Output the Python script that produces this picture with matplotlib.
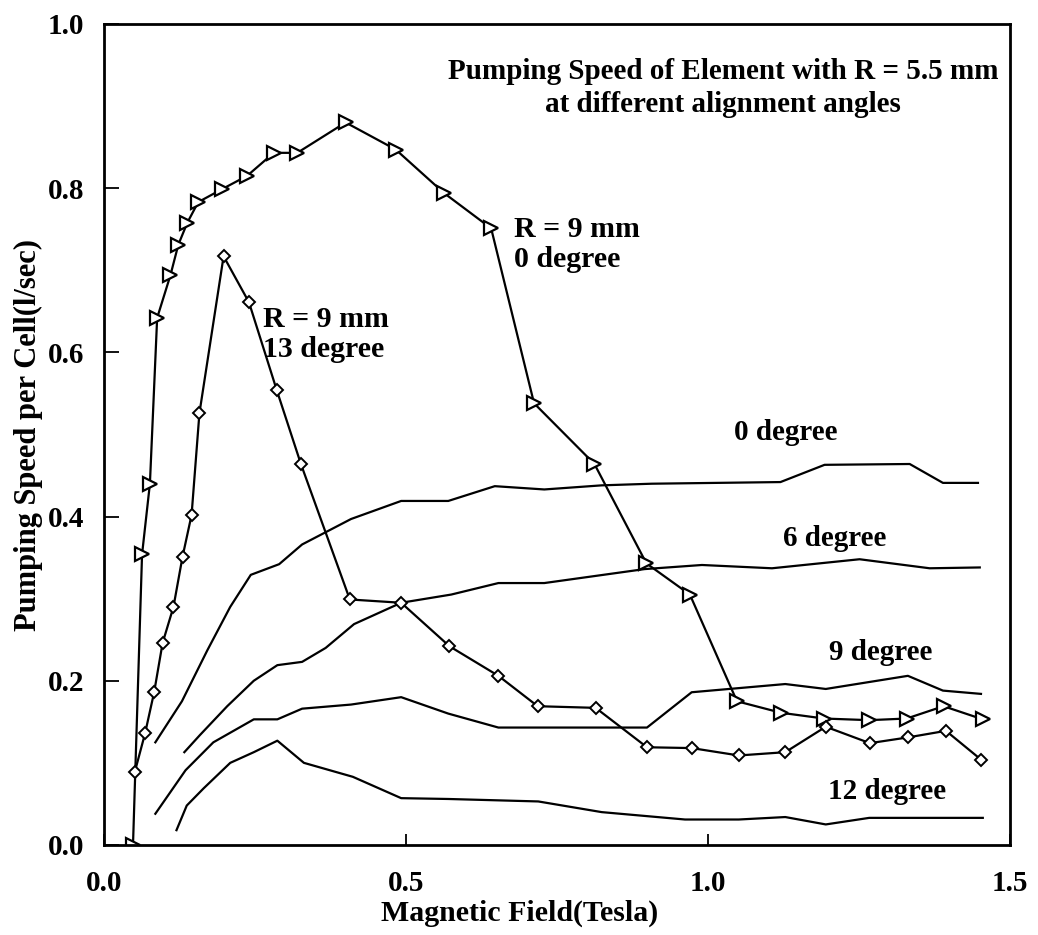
import matplotlib
matplotlib.use("Agg")
import matplotlib.pyplot as plt

plt.rcParams['font.family'] = ['Liberation Serif', 'DejaVu Serif']
plt.rcParams['font.weight'] = 'bold'

# R = 9 mm, 0 degree (open triangles)
tri_x = [0.048, 0.063, 0.076, 0.088, 0.110, 0.123, 0.138, 0.156, 0.196, 0.237, 0.281, 0.320,
         0.400, 0.483, 0.563, 0.641, 0.712, 0.812, 0.898, 0.970, 1.048, 1.121, 1.192, 1.267,
         1.329, 1.390, 1.455]
tri_y = [0.000, 0.354, 0.440, 0.642, 0.694, 0.731, 0.758, 0.783, 0.799, 0.815, 0.843, 0.843,
         0.880, 0.847, 0.794, 0.751, 0.538, 0.464, 0.343, 0.305, 0.175, 0.161, 0.154, 0.152,
         0.154, 0.169, 0.153]

# R = 9 mm, 13 degree (open diamonds)
dia_x = [0.051, 0.068, 0.083, 0.097, 0.115, 0.130, 0.145, 0.158, 0.198, 0.240, 0.286, 0.326,
         0.407, 0.492, 0.572, 0.653, 0.718, 0.814, 0.899, 0.973, 1.051, 1.128, 1.195, 1.268,
         1.331, 1.394, 1.452]
dia_y = [0.089, 0.136, 0.186, 0.246, 0.290, 0.351, 0.402, 0.526, 0.717, 0.661, 0.554, 0.464,
         0.299, 0.295, 0.242, 0.206, 0.169, 0.167, 0.119, 0.118, 0.109, 0.113, 0.144, 0.124,
         0.131, 0.139, 0.104]

# R = 5.5 mm element, plain lines
deg0_x = [0.085, 0.129, 0.171, 0.209, 0.243, 0.290, 0.328, 0.409, 0.492, 0.570, 0.647, 0.729,
          0.824, 0.907, 1.120, 1.193, 1.334, 1.389, 1.447]
deg0_y = [0.125, 0.175, 0.237, 0.290, 0.329, 0.342, 0.366, 0.397, 0.419, 0.419, 0.437, 0.433,
          0.438, 0.440, 0.442, 0.463, 0.464, 0.441, 0.441]

deg6_x = [0.133, 0.159, 0.204, 0.248, 0.287, 0.328, 0.367, 0.414, 0.492, 0.575, 0.653, 0.729,
          0.895, 0.990, 1.106, 1.251, 1.367, 1.450]
deg6_y = [0.113, 0.134, 0.169, 0.200, 0.219, 0.223, 0.240, 0.269, 0.295, 0.305, 0.319, 0.319,
          0.336, 0.341, 0.337, 0.348, 0.337, 0.338]

deg9_x = [0.085, 0.135, 0.181, 0.248, 0.287, 0.328, 0.409, 0.492, 0.570, 0.653, 0.899, 0.973,
          1.128, 1.195, 1.331, 1.389, 1.452]
deg9_y = [0.038, 0.091, 0.125, 0.153, 0.153, 0.166, 0.171, 0.180, 0.160, 0.143, 0.143, 0.186,
          0.196, 0.190, 0.206, 0.188, 0.184]

deg12_x = [0.120, 0.137, 0.165, 0.209, 0.248, 0.287, 0.331, 0.412, 0.492, 0.570, 0.719, 0.824,
           0.962, 1.051, 1.128, 1.195, 1.267, 1.455]
deg12_y = [0.018, 0.048, 0.069, 0.100, 0.113, 0.127, 0.100, 0.083, 0.057, 0.056, 0.053, 0.040,
           0.031, 0.031, 0.034, 0.025, 0.033, 0.033]

x_ticks = [0.0, 0.5, 1.0, 1.5]
x_ticklabels = ['0.0', '0.5', '1.0', '1.5']
y_ticks = [0.0, 0.2, 0.4, 0.6, 0.8, 1.0]
y_ticklabels = ['0.0', '0.2', '0.4', '0.6', '0.8', '1.0']

fig = plt.figure(figsize=(10.38, 9.35), dpi=100)
ax = fig.add_axes([0.1002, 0.0963, 0.8728, 0.8781])

lw = 1.6
for xs, ys in [(deg0_x, deg0_y), (deg6_x, deg6_y), (deg9_x, deg9_y), (deg12_x, deg12_y)]:
    ax.plot(xs, ys, color='black', lw=lw)

ax.plot(tri_x, tri_y, color='black', lw=lw, marker='>', markersize=9.5,
        markerfacecolor='white', markeredgewidth=1.6)
ax.plot(dia_x, dia_y, color='black', lw=lw, marker='D', markersize=6.5,
        markerfacecolor='white', markeredgewidth=1.4)

ax.set_xlim(0, 1.5)
ax.set_ylim(0, 1.0)
ax.set_xticks(x_ticks)
ax.set_xticklabels(x_ticklabels)
ax.set_yticks(y_ticks)
ax.set_yticklabels(y_ticklabels)
ax.tick_params(axis='x', direction='in', length=8, width=1.3, pad=18, labelsize=21)
ax.tick_params(axis='y', direction='in', length=11, width=1.3, pad=14, labelsize=21)
for s in ax.spines.values():
    s.set_linewidth(2)

ax.text(0.459, -0.083, 'Magnetic Field(Tesla)', transform=ax.transAxes,
        ha='center', va='center', fontsize=21.5)
fig.text(0.027, 0.535, 'Pumping Speed per Cell(l/sec)', rotation=90,
         ha='center', va='center', fontsize=22)

ax.text(1.025, 0.922, 'Pumping Speed of Element with R = 5.5 mm\nat different alignment angles',
        ha='center', va='center', fontsize=21, linespacing=1.25)
ax.text(0.678, 0.731, 'R = 9 mm\n0 degree', ha='left', va='center', fontsize=21.5,
        linespacing=1.15)
ax.text(0.264, 0.622, 'R = 9 mm\n13 degree', ha='left', va='center', fontsize=21.5,
        linespacing=1.15)
ax.text(1.128, 0.502, '0 degree', ha='center', va='center', fontsize=21)
ax.text(1.209, 0.373, '6 degree', ha='center', va='center', fontsize=21)
ax.text(1.286, 0.234, '9 degree', ha='center', va='center', fontsize=21)
ax.text(1.297, 0.065, '12 degree', ha='center', va='center', fontsize=21)

fig.savefig('out.png', dpi=100)
